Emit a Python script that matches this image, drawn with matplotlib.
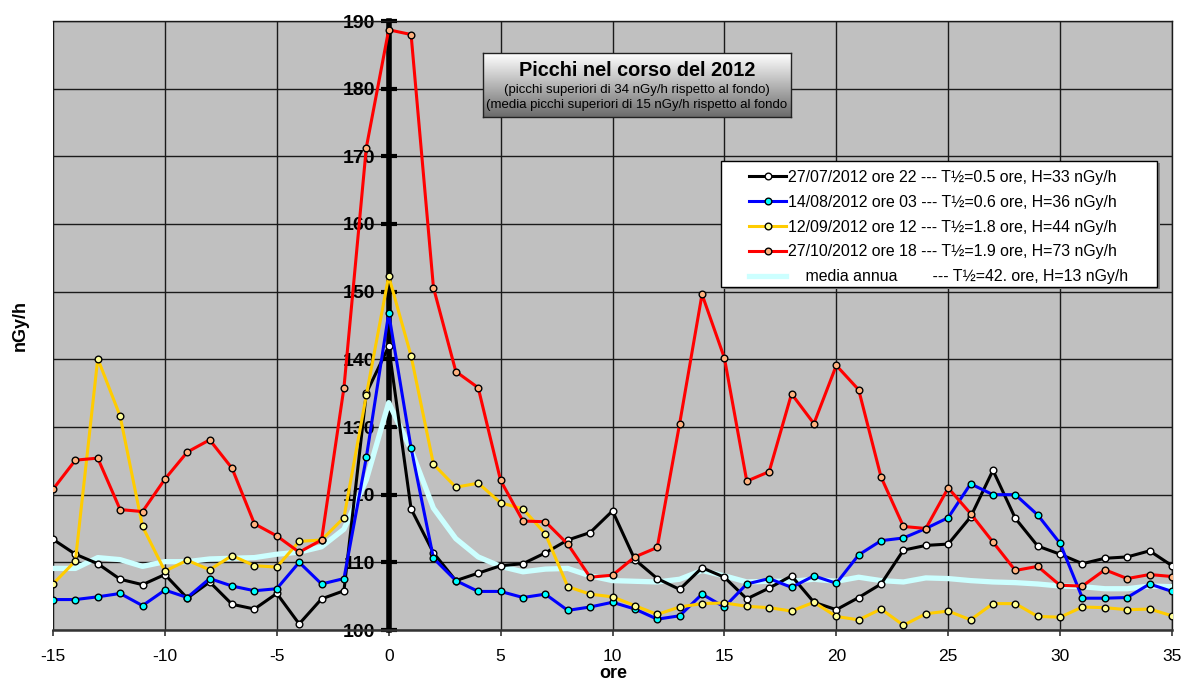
import numpy as np
import matplotlib
matplotlib.use("Agg")
import matplotlib.pyplot as plt
from matplotlib.patches import Rectangle

plt.rcParams['font.family'] = ['Liberation Sans', 'DejaVu Sans']
plt.rcParams['axes.unicode_minus'] = False

hours = list(range(-15, 36))

black_vals = [113.4, 111.2, 109.8, 107.5, 106.7, 108.2, 104.7, 107.1, 103.8, 103.1,
              105.4, 100.9, 104.6, 105.8, 135.0, 141.9, 117.9, 111.4, 107.3, 108.4,
              109.5, 109.8, 111.4, 113.3, 114.4, 117.6, 110.4, 107.6, 106.0, 109.2,
              107.8, 104.6, 106.2, 108.0, 104.1, 103.0, 104.8, 106.8, 111.8, 112.5,
              112.7, 116.7, 123.6, 116.5, 112.4, 111.2, 109.8, 110.6, 110.8, 111.7,
              109.5]
blue_vals = [104.5, 104.5, 104.9, 105.4, 103.6, 105.9, 104.8, 107.6, 106.5, 105.8,
             106.1, 110.0, 106.8, 107.6, 125.5, 146.8, 126.9, 110.6, 107.3, 105.7,
             105.7, 104.8, 105.3, 102.9, 103.4, 104.1, 103.1, 101.6, 102.1, 105.3,
             103.4, 106.8, 107.6, 106.3, 108.0, 106.9, 111.1, 113.2, 113.6, 115.0,
             116.6, 121.6, 120.0, 120.0, 117.0, 112.8, 104.7, 104.7, 104.8, 106.8,
             105.7]
yellow_vals = [106.8, 110.2, 140.1, 131.6, 115.3, 108.7, 110.3, 108.9, 111.0, 109.5,
               109.3, 113.1, 113.3, 116.6, 134.7, 152.3, 140.5, 124.5, 121.1, 121.7,
               118.8, 117.9, 114.2, 106.4, 105.3, 104.9, 103.6, 102.3, 103.4, 103.9,
               104.0, 103.5, 103.3, 102.8, 104.1, 102.0, 101.5, 103.1, 100.7, 102.4,
               102.8, 101.5, 103.9, 103.9, 102.0, 101.9, 103.4, 103.3, 103.0, 103.1,
               102.1]
red_vals = [120.8, 125.1, 125.4, 117.8, 117.5, 122.3, 126.3, 128.1, 123.9, 115.7,
            113.9, 111.5, 113.3, 135.8, 171.3, 188.7, 188.0, 150.6, 138.2, 135.8,
            122.1, 116.1, 116.0, 112.7, 107.8, 108.1, 110.8, 112.2, 130.5, 149.6,
            140.2, 122.0, 123.4, 134.9, 130.5, 139.1, 135.5, 122.6, 115.3, 115.0,
            121.0, 117.2, 113.0, 108.8, 109.4, 106.6, 106.5, 108.9, 107.6, 108.2,
            107.9]
media_vals = [109.1, 109.1, 110.7, 110.4, 109.4, 110.1, 110.1, 110.5, 110.6, 110.7,
              111.2, 111.5, 112.3, 114.9, 122.2, 133.6, 126.6, 118.0, 113.5, 110.8,
              109.4, 108.6, 109.0, 109.1, 108.0, 107.3, 107.2, 107.1, 107.5, 108.8,
              108.0, 107.1, 107.2, 107.2, 107.5, 107.2, 107.8, 107.3, 107.1, 107.7,
              107.6, 107.3, 107.1, 107.0, 106.8, 106.5, 106.4, 106.1, 106.1, 106.5,
              106.4]

labels = ["27/07/2012 ore 22 --- T½=0.5 ore, H=33 nGy/h",
          "14/08/2012 ore 03 --- T½=0.6 ore, H=36 nGy/h",
          "12/09/2012 ore 12 --- T½=1.8 ore, H=44 nGy/h",
          "27/10/2012 ore 18 --- T½=1.9 ore, H=73 nGy/h",
          "    media annua        --- T½=42. ore, H=13 nGy/h"]
xticks = [-15, -10, -5, 0, 5, 10, 15, 20, 25, 30, 35]
yticks = [100, 110, 120, 130, 140, 150, 160, 170, 180, 190]

W, H = 1185, 681
fig = plt.figure(figsize=(W / 100, H / 100), dpi=100)
ax = fig.add_axes([53 / W, 1 - 630 / H, (1172 - 53) / W, (630 - 21) / H])
ax.set_facecolor('#C0C0C0')
ax.set_xlim(xticks[0], xticks[-1])
ax.set_ylim(yticks[0], yticks[-1])

# grid
ax.set_xticks(xticks)
ax.set_yticks(yticks)
ax.grid(True, color='#1a1a1a', lw=1.0, zorder=1)
ax.set_axisbelow(True)

# left spine at x = 0, thick
ax.spines['left'].set_position(('data', 0))
ax.spines['left'].set_linewidth(4)
ax.spines['left'].set_color('black')
ax.spines['left'].set_zorder(2.5)
ax.spines['bottom'].set_linewidth(1.8)
ax.spines['bottom'].set_color('#333333')
for s in ['top', 'right']:
    ax.spines[s].set_linewidth(1.0)
    ax.spines[s].set_color('#1a1a1a')
ax.axvline(xticks[0], color='#1a1a1a', lw=1.5, zorder=1)

ax.tick_params(axis='y', direction='inout', length=12, width=3, color='black',
               pad=4, labelsize=14)
for t in ax.get_yticklabels():
    t.set_fontweight('bold')
ax.tick_params(axis='x', direction='out', length=4, width=1.2, color='#333333',
               pad=10, labelsize=12.5)

# series
ml = dict(marker='o', markersize=4.8, markeredgecolor='black', markeredgewidth=1.0)
l5, = ax.plot(hours, media_vals, color='#CCFFFF', lw=3.8, zorder=3, label=labels[4],
              solid_joinstyle='round')
l1, = ax.plot(hours, black_vals, color='black', lw=2.2, markerfacecolor='white',
              zorder=4, label=labels[0], **ml)
l2, = ax.plot(hours, blue_vals, color='#0000FF', lw=2.2, markerfacecolor='#00FFFF',
              zorder=4, label=labels[1], **ml)
l3, = ax.plot(hours, yellow_vals, color='#FFCC00', lw=2.2, markerfacecolor='#FFFF99',
              zorder=4, label=labels[2], **ml)
l4, = ax.plot(hours, red_vals, color='#FF0000', lw=2.2, markerfacecolor='#FFB380',
              zorder=4, label=labels[3], **ml)

fig.text(613 / W, 1 - 673 / H, 'ore', ha='center', va='center', fontsize=13,
         fontweight='bold')
fig.text(20 / W, 1 - 326 / H, 'nGy/h', ha='center', va='center', fontsize=13,
         fontweight='bold', rotation=90)

# legend frame
fig.patches.append(Rectangle((724 / W, 1 - 289 / H), (1157 - 721) / W, (287 - 161) / H,
                             transform=fig.transFigure, facecolor='#808080',
                             edgecolor='none', zorder=5))
fig.patches.append(Rectangle((721 / W, 1 - 287 / H), (1157 - 721) / W, (287 - 161) / H,
                             transform=fig.transFigure, facecolor='white',
                             edgecolor='black', lw=1.0, zorder=6))
leg = fig.legend(handles=[l1, l2, l3, l4, l5], loc='upper left',
                 bbox_to_anchor=(749 / W, 1 - 170 / H), bbox_transform=fig.transFigure,
                 frameon=False, borderpad=0, borderaxespad=0, fontsize=11.4,
                 handlelength=2.35, handletextpad=0.12, labelspacing=0.62)
leg.set_zorder(7)

# title box with gradient
tax = fig.add_axes([483 / W, 1 - 117 / H, (791 - 483) / W, (117 - 53) / H])
grad = np.linspace(1.0, 0.42, 100).reshape(-1, 1)
tax.imshow(grad, cmap='gray', vmin=0, vmax=1, aspect='auto', extent=[0, 1, 0, 1])
tax.set_xticks([])
tax.set_yticks([])
for s in tax.spines.values():
    s.set_color('#222222')
    s.set_linewidth(1.0)
tax.text(0.5, 1 - (70 - 53) / 64, 'Picchi nel corso del 2012', ha='center', va='center',
         fontsize=14.3, fontweight='bold', transform=tax.transAxes)
tax.text(0.5, 1 - (90.5 - 53) / 64, '(picchi superiori di 34 nGy/h rispetto al fondo)',
         ha='center', va='center', fontsize=9.5, transform=tax.transAxes)
tax.text(0.5, 1 - (105 - 53) / 64, '(media picchi superiori di 15 nGy/h rispetto al fondo',
         ha='center', va='center', fontsize=9.5, transform=tax.transAxes)

fig.savefig('out.png', dpi=100)
